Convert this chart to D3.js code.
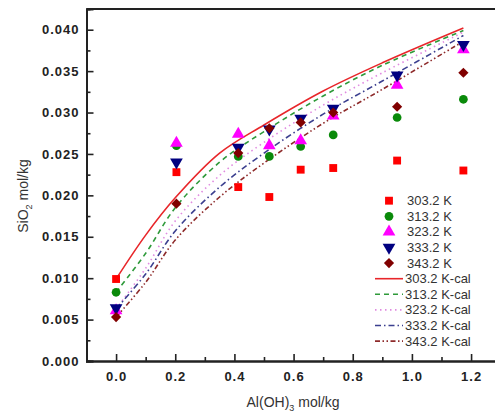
<!DOCTYPE html>
<html>
<head>
<meta charset="utf-8">
<script src="https://cdn.jsdelivr.net/npm/d3@7"></script>
<style>
  body { margin: 0; background: #fff; }
  svg { display: block; font-family: Arial, "Liberation Sans", sans-serif; }
</style>
</head>
<body>
<div id="chart"></div>
<script>
// Experimental data: SiO2 solubility vs Al(OH)3
const alOH3 = [0, 0.204, 0.413, 0.518, 0.624, 0.734, 0.950, 1.174];
const exp303 = [0.0099, 0.0228, 0.0210, 0.0198, 0.0231, 0.0233, 0.0242, 0.0230];
const exp313 = [0.0083, 0.0260, 0.0247, 0.0247, 0.0259, 0.0273, 0.0294, 0.0316];
const exp323 = [0.0061, 0.0263, 0.0274, 0.0260, 0.0266, 0.0296, 0.0333, 0.0376];
const exp333 = [0.0064, 0.0240, 0.0258, 0.0280, 0.0293, 0.0305, 0.0345, 0.0382];
const exp343 = [0.0053, 0.0190, 0.0251, 0.0281, 0.0288, 0.0300, 0.0307, 0.0348];

// Calculated curves
const calX = [0, 0.1, 0.2, 0.35, 0.5, 0.7, 0.9, 1.174];
const cal303 = [0.0099, 0.0152, 0.0197, 0.0251, 0.0285, 0.0326, 0.0360, 0.0402];
const cal313 = [0.0083, 0.0130, 0.0185, 0.0240, 0.0277, 0.0320, 0.0357, 0.0399];
const cal323 = [0.0063, 0.0112, 0.0169, 0.0224, 0.0264, 0.0309, 0.0348, 0.0397];
const cal333 = [0.0063, 0.0105, 0.0157, 0.0210, 0.0251, 0.0298, 0.0338, 0.0393];
const cal343 = [0.0053, 0.0095, 0.0146, 0.0198, 0.0239, 0.0287, 0.0328, 0.0386];

const xTicks = [0, 0.2, 0.4, 0.6, 0.8, 1.0, 1.2];
const yTicks = [0, 0.005, 0.010, 0.015, 0.020, 0.025, 0.030, 0.035, 0.040];

const temps = ['303.2 K', '313.2 K', '323.2 K', '333.2 K', '343.2 K'];

const W = 495, H = 416;
const svg = d3.select('#chart').append('svg').attr('width', W).attr('height', H);

const x = d3.scaleLinear().domain([-0.1, 1.29]).range([86.5, 497.7]);
const y = d3.scaleLinear().domain([0, 0.0425]).range([361, 9]);

// series styling
const series = [
  { name: temps[0], exp: exp303, cal: cal303, color: '#ff0000', line: '#e8262a', shape: d3.symbolSquare, size: 62, dash: null },
  { name: temps[1], exp: exp313, cal: cal313, color: '#0a8a0a', line: '#2e9a3a', shape: d3.symbolCircle, size: 60, dash: '5,4' },
  { name: temps[2], exp: exp323, cal: cal323, color: '#ff00ff', line: '#e08ae0', shape: d3.symbolTriangle, size: 70, dash: '1.5,3.5' },
  { name: temps[3], exp: exp333, cal: cal333, color: '#000080', line: '#3b3f8f', shape: 'down', size: 70, dash: '6,3,1.5,3' },
  { name: temps[4], exp: exp343, cal: cal343, color: '#800000', line: '#8e2a2a', shape: 'diamond', size: 52, dash: '5,2.5,1.5,2.5,1.5,2.5' }
];

function marker(g, s, cx, cy) {
  let shape = s.shape, rot = 0;
  if (shape === 'down') { shape = d3.symbolTriangle; rot = 180; }
  if (shape === 'diamond') { shape = d3.symbolSquare; rot = 45; }
  g.append('path')
    .attr('d', d3.symbol(shape, s.size)())
    .attr('transform', `translate(${cx},${cy}) rotate(${rot})`)
    .attr('fill', s.color);
}

// calculated lines
const line = d3.line().x(d => x(d[0])).y(d => y(d[1])).curve(d3.curveCatmullRom.alpha(0.5));
series.forEach(s => {
  svg.append('path')
    .datum(calX.map((v, i) => [v, s.cal[i]]))
    .attr('d', line)
    .attr('fill', 'none')
    .attr('stroke', s.line)
    .attr('stroke-width', 1.6)
    .attr('stroke-dasharray', s.dash);
});

// experimental points
series.forEach(s => {
  const g = svg.append('g');
  alOH3.forEach((v, i) => marker(g, s, x(v), y(s.exp[i])));
});

// axes (ticks inward)
const xAxis = svg.append('g').attr('transform', `translate(0,${y(0)})`)
  .call(d3.axisBottom(x).tickValues(xTicks).tickSize(-7).tickPadding(11).tickFormat(d3.format('.1f')));
const xMinor = svg.append('g').attr('transform', `translate(0,${y(0)})`)
  .call(d3.axisBottom(x).tickValues([-0.1, 0.1, 0.3, 0.5, 0.7, 0.9, 1.1]).tickSize(-4).tickFormat(''));
const yAxis = svg.append('g').attr('transform', `translate(${x(-0.1)},0)`)
  .call(d3.axisLeft(y).tickValues(yTicks).tickSize(-7).tickPadding(7).tickFormat(d3.format('.3f')));
const yMinor = svg.append('g').attr('transform', `translate(${x(-0.1)},0)`)
  .call(d3.axisLeft(y).tickValues(d3.range(0.0025, 0.042, 0.005)).tickSize(-4).tickFormat(''));

[xAxis, xMinor, yAxis, yMinor].forEach(a => {
  a.select('.domain').attr('stroke', '#222').attr('stroke-width', 2);
  a.selectAll('.tick line').attr('stroke', '#222').attr('stroke-width', 1.6);
  a.selectAll('.tick text').attr('fill', '#222')
    .style('font-size', '13px').style('font-weight', 'bold').style('letter-spacing', '1px');
});
// top frame
svg.append('line').attr('x1', x(-0.1)).attr('x2', W + 5).attr('y1', y(0.0425)).attr('y2', y(0.0425))
  .attr('stroke', '#222').attr('stroke-width', 2);

// axis titles
const xt = svg.append('text').attr('x', 293).attr('y', 407).attr('text-anchor', 'middle')
  .attr('fill', '#333').style('font-size', '14px');
xt.append('tspan').text('Al(OH)');
xt.append('tspan').attr('dy', 4).style('font-size', '9px').text('3');
xt.append('tspan').attr('dy', -4).text(' mol/kg');

const yt = svg.append('text').attr('transform', 'translate(28,196) rotate(-90)').attr('text-anchor', 'middle')
  .attr('fill', '#333').style('font-size', '14px');
yt.append('tspan').text('SiO');
yt.append('tspan').attr('dy', 4).style('font-size', '9px').text('2');
yt.append('tspan').attr('dy', -4).text(' mol/kg');

// legend
const leg = svg.append('g');
const rowH = 15.6, legY = 200.7;
series.forEach((s, i) => {
  const cy = legY + i * rowH;
  marker(leg, s, 389, cy);
  leg.append('text').attr('x', 407).attr('y', cy + 4.5).attr('fill', '#333')
    .style('font-size', '13px').text(s.name);
});
series.forEach((s, i) => {
  const cy = legY + (i + 5) * rowH;
  leg.append('line').attr('x1', 375).attr('x2', 403).attr('y1', cy).attr('y2', cy)
    .attr('stroke', s.line).attr('stroke-width', 1.6).attr('stroke-dasharray', s.dash);
  leg.append('text').attr('x', 405).attr('y', cy + 4.5).attr('fill', '#333')
    .style('font-size', '13px').text(s.name + '-cal');
});
</script>
</body>
</html>
